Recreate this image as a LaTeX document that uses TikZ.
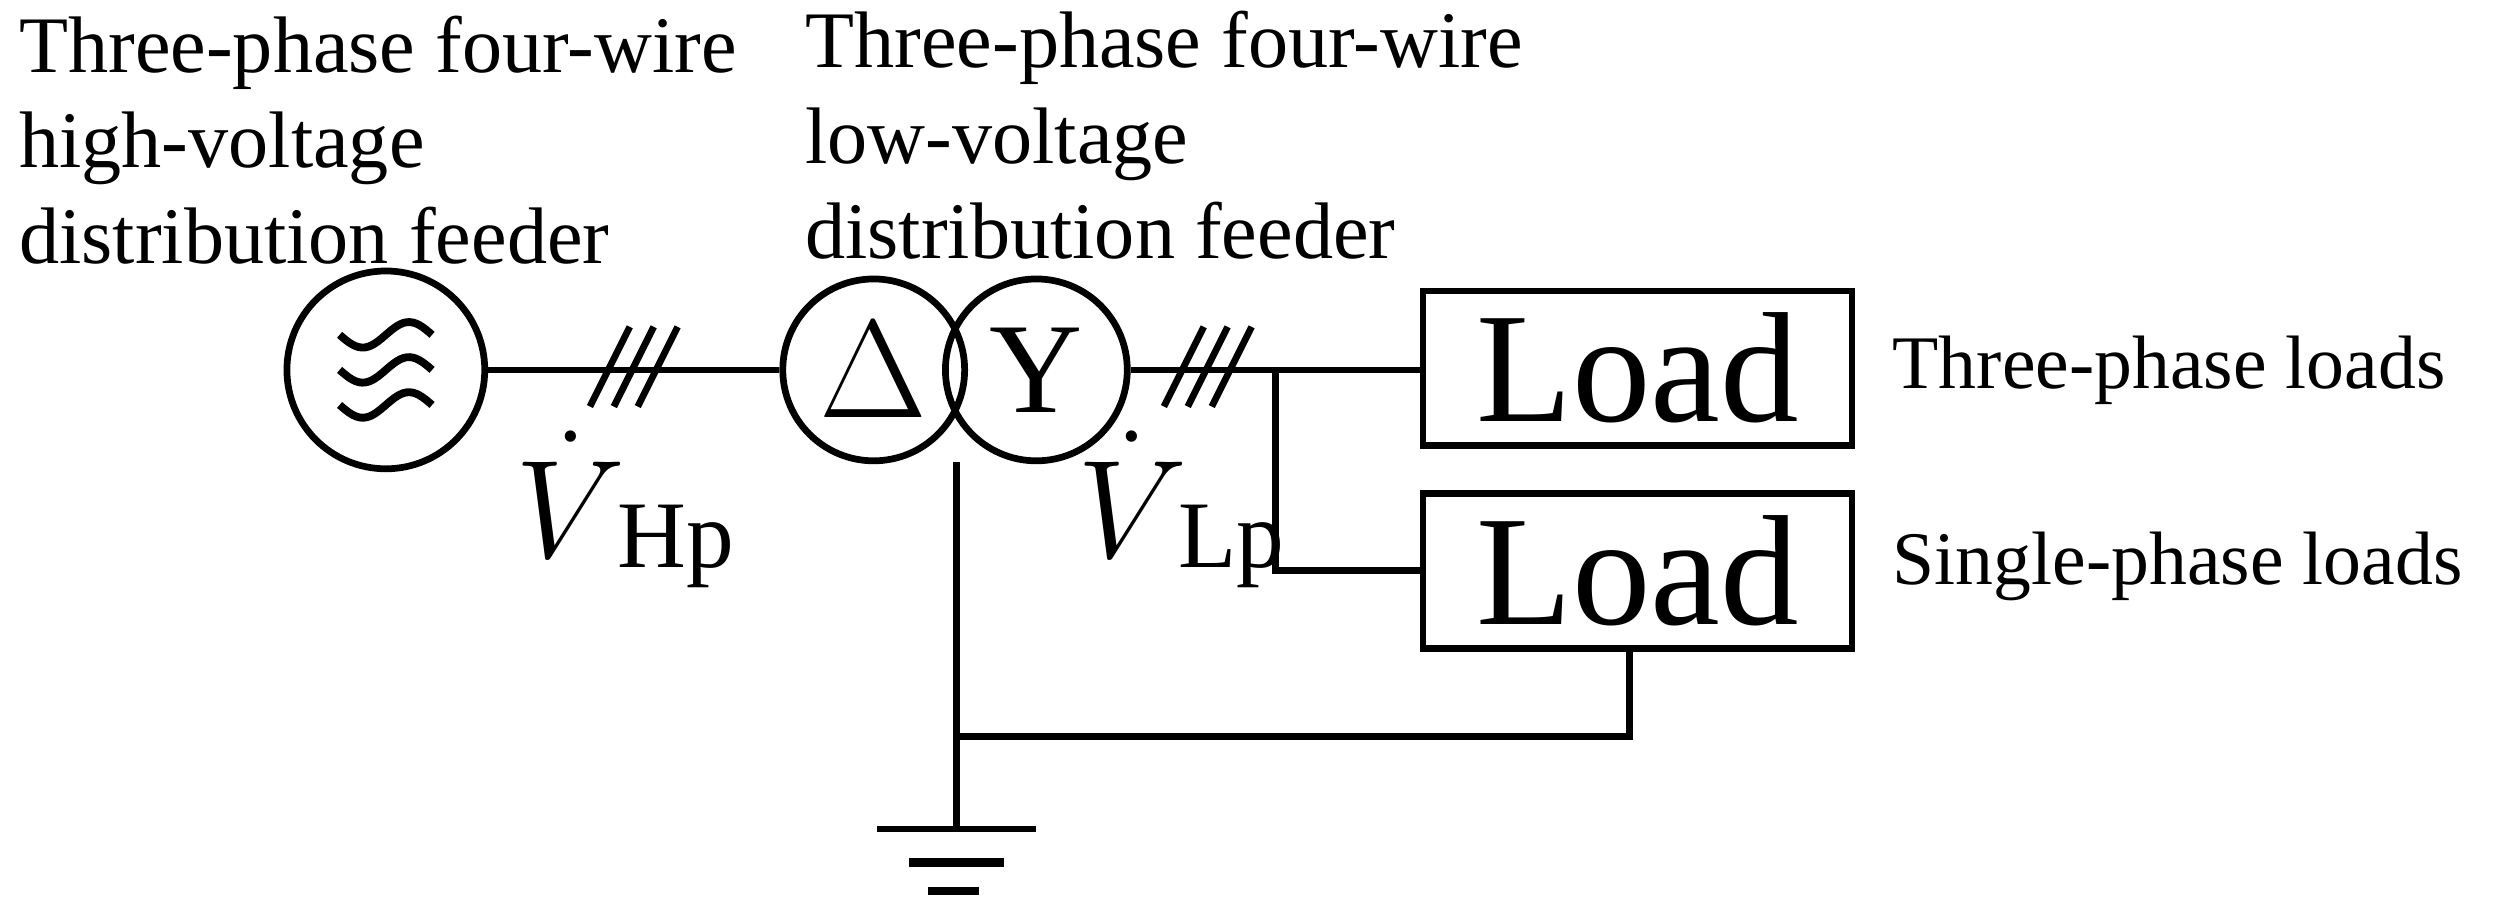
\documentclass[tikz,border=0pt]{standalone}
\usepackage{fontspec}
\setmainfont{Liberation Serif}
\begin{document}
\begin{tikzpicture}[x=0.01cm,y=-0.01cm,line width=1.2pt,
  lbl/.style={font=\fontsize{14.3}{17}\selectfont,align=left,inner sep=0},
  side/.style={font=\fontsize{13.5}{15}\selectfont,anchor=west,inner sep=0},
  box/.style={draw,minimum width=2.69cm,minimum height=0.97cm,inner sep=0,font=\fontsize{28}{30}\selectfont},
  wind/.style={draw,circle,minimum size=1.14cm,inner sep=0,font=\fontsize{23}{25}\selectfont},
  vv/.style={font=\fontsize{25}{25}\selectfont,inner sep=0},
  vs/.style={font=\fontsize{17}{17}\selectfont,anchor=west,inner sep=0}]
\useasboundingbox (0,0) rectangle (1568,567);
\node[lbl,anchor=north west] (t1) at (10,8) {Three-phase four-wire\\high-voltage\\distribution feeder};
\node[lbl,anchor=north west] (t2) at (503,5) {Three-phase four-wire\\low-voltage\\distribution feeder};
\node[draw,circle,minimum size=1.24cm,inner sep=0] (src) at (242,232) {};
\foreach \dy in {-22,0,22}{
  \draw[line width=1.4pt,domain=-1:1,samples=30,smooth] plot ({242+29*\x},{232+\dy-8*sin(180*\x)});}
\node[wind] (d) at (548,232) {$\Delta$};
\node[wind] (y) at (650,232) {Y};
\draw (src.east) -- (d.west);
\foreach \x in {370,385,400}{\draw (\x,255) -- (\x+25,205);}
\coordinate (j) at (800,232);
\node[box] (l1) at (1027,231) {Load};
\node[box] (l2) at (1027,358) {Load};
\draw (y.east) -- (l1.west |- y.east);
\foreach \x in {730,745,760}{\draw (\x,255) -- (\x+25,205);}
\draw (j) |- (l2.west);
\coordinate (top) at (600,290);
\coordinate (g) at (600,520);
\coordinate (b) at (1022,462);
\draw (top) -- (g);
\draw (600,462) -- (b) -- (b |- l2.south);
\draw (550,520) -- (650,520);
\draw[line width=1.5pt] (570,541) -- (630,541);
\draw[line width=1.5pt] (582,559) -- (614,559);
\node[vv] (vh) at (358,310) {$\dot{V}$};
\node[vs] (vhs) at (385,343) {Hp};
\node[vv] (vl) at (710,310) {$\dot{V}$};
\node[vs] (vls) at (737,343) {Lp};
\node[side] (s1) at (1185,232) {Three-phase loads};
\node[side] (s2) at (1185,355) {Single-phase loads};
\end{tikzpicture}
\end{document}
